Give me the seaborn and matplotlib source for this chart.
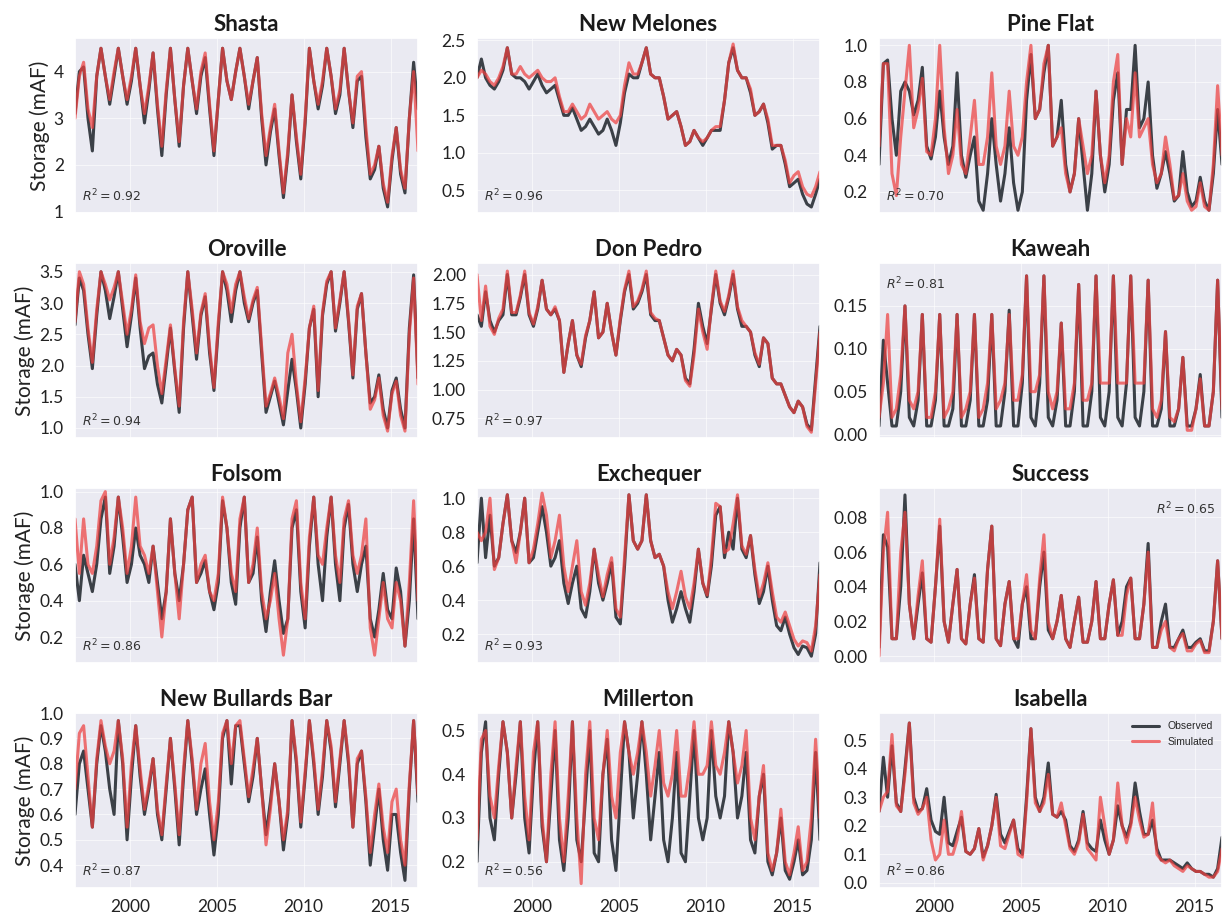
import numpy as np
import pandas as pd
import matplotlib
matplotlib.use("Agg")
import matplotlib.pyplot as plt
import seaborn as sns

# ---------------- data (quarterly readings: Nov, Feb, May, Aug of each water year 1997-2016) ----------------
dates = pd.date_range("1996-11-01", periods=80, freq="3MS")
series_names = ["Observed", "Simulated"]
reservoirs = ["Shasta", "New Melones", "Pine Flat",
              "Oroville", "Don Pedro", "Kaweah",
              "Folsom", "Exchequer", "Success",
              "New Bullards Bar", "Millerton", "Isabella"]
r2_values = [0.92, 0.96, 0.70, 0.94, 0.97, 0.81, 0.86, 0.93, 0.65, 0.87, 0.56, 0.86]

shasta_obs = [3.1, 4.0, 4.1, 3.0,  2.3, 3.9, 4.5, 3.9,  3.3, 3.9, 4.5, 3.9,  3.3, 3.8, 4.5, 3.7,
              2.9, 3.6, 4.4, 3.2,  2.2, 3.5, 4.5, 3.4,  2.4, 3.7, 4.5, 3.8,  3.1, 3.9, 4.3, 3.2,
              2.2, 3.4, 4.5, 3.8,  3.4, 4.0, 4.5, 3.9,  3.2, 3.8, 4.3, 3.0,  2.0, 2.7, 3.2, 2.2,
              1.3, 2.2, 3.5, 2.5,  1.7, 2.9, 4.5, 3.8,  3.2, 3.7, 4.5, 3.9,  3.1, 3.5, 4.5, 3.6,
              2.8, 3.8, 3.9, 2.6,  1.7, 1.9, 2.4, 1.5,  1.1, 2.1, 2.8, 1.8,  1.4, 3.0, 4.2, 3.2]
shasta_sim = [3.0, 3.9, 4.2, 3.2,  2.8, 3.9, 4.5, 3.9,  3.4, 4.0, 4.5, 3.9,  3.4, 3.9, 4.5, 3.7,
              3.1, 3.7, 4.4, 3.3,  2.4, 3.6, 4.5, 3.4,  2.5, 3.7, 4.5, 3.8,  3.2, 4.0, 4.4, 3.3,
              2.3, 3.4, 4.5, 3.8,  3.4, 4.0, 4.5, 3.9,  3.3, 3.8, 4.3, 3.1,  2.2, 2.8, 3.3, 2.3,
              1.4, 2.3, 3.5, 2.6,  1.8, 3.0, 4.5, 3.8,  3.3, 3.8, 4.5, 3.9,  3.2, 3.6, 4.5, 3.6,
              2.9, 3.9, 4.0, 2.8,  1.8, 2.0, 2.4, 1.6,  1.2, 2.2, 2.8, 1.9,  1.5, 3.0, 4.0, 2.3]

melones_obs = [2.0, 2.25, 2.0, 1.9,  1.85, 1.95, 2.1, 2.4,  2.05, 2.0, 2.0, 1.95,  1.85, 1.95, 2.05, 1.9,
               1.8, 1.85, 1.9, 1.7,  1.5, 1.5, 1.6, 1.45,  1.3, 1.35, 1.45, 1.35,  1.25, 1.3, 1.45, 1.3,
               1.1, 1.4, 1.8, 2.05,  2.0, 2.0, 2.2, 2.4,  2.05, 2.0, 2.0, 1.75,  1.45, 1.5, 1.55, 1.35,
               1.1, 1.15, 1.3, 1.2,  1.1, 1.2, 1.3, 1.3,  1.3, 1.7, 2.2, 2.4,  2.1, 2.0, 2.0, 1.8,
               1.5, 1.55, 1.65, 1.4,  1.05, 1.1, 1.1, 0.85,  0.55, 0.6, 0.65, 0.45,  0.32, 0.28, 0.45, 0.65]
melones_sim = [2.0, 2.1, 2.05, 1.95,  1.9, 2.0, 2.15, 2.4,  2.05, 2.05, 2.15, 2.05,  2.0, 2.05, 2.1, 2.0,
               1.95, 1.95, 2.0, 1.75,  1.55, 1.55, 1.65, 1.55,  1.45, 1.5, 1.65, 1.55,  1.45, 1.5, 1.55, 1.45,
               1.4, 1.5, 1.9, 2.2,  2.05, 2.05, 2.2, 2.4,  2.05, 2.0, 2.0, 1.75,  1.45, 1.5, 1.55, 1.35,
               1.1, 1.15, 1.3, 1.2,  1.15, 1.2, 1.3, 1.35,  1.35, 1.7, 2.2, 2.45,  2.1, 2.0, 2.0, 1.85,
               1.5, 1.55, 1.65, 1.45,  1.1, 1.1, 1.1, 0.9,  0.6, 0.7, 0.75, 0.55,  0.45, 0.42, 0.55, 0.75]

pineflat_obs = [0.35, 0.9, 0.92, 0.6,  0.4, 0.75, 0.8, 0.75,  0.62, 0.7, 0.88, 0.45,  0.38, 0.5, 0.75, 0.5,
                0.35, 0.45, 0.85, 0.4,  0.28, 0.4, 0.5, 0.15,  0.1, 0.3, 0.6, 0.35,  0.15, 0.3, 0.55, 0.25,
                0.1, 0.2, 0.7, 0.95,  0.6, 0.65, 0.85, 1.0,  0.45, 0.5, 0.7, 0.35,  0.2, 0.3, 0.6, 0.35,
                0.1, 0.3, 0.75, 0.4,  0.2, 0.35, 0.7, 0.85,  0.35, 0.65, 0.65, 1.0,  0.55, 0.6, 0.8, 0.4,
                0.22, 0.3, 0.42, 0.3,  0.15, 0.18, 0.42, 0.2,  0.12, 0.15, 0.28, 0.15,  0.1, 0.3, 0.65, 0.35]
pineflat_sim = [0.45, 0.9, 0.9, 0.3,  0.18, 0.5, 0.75, 1.0,  0.55, 0.65, 0.82, 0.42,  0.4, 0.6, 1.0, 0.55,
                0.3, 0.4, 0.65, 0.35,  0.3, 0.5, 0.7, 0.35,  0.35, 0.5, 0.85, 0.45,  0.35, 0.45, 0.75, 0.45,
                0.4, 0.5, 0.8, 1.0,  0.6, 0.65, 0.9, 1.0,  0.45, 0.5, 0.55, 0.3,  0.2, 0.3, 0.6, 0.45,
                0.3, 0.4, 0.75, 0.4,  0.25, 0.4, 0.8, 0.95,  0.35, 0.6, 0.5, 0.85,  0.5, 0.55, 0.6, 0.35,
                0.25, 0.3, 0.5, 0.35,  0.16, 0.18, 0.3, 0.15,  0.1, 0.12, 0.25, 0.12,  0.1, 0.35, 0.78, 0.4]

oroville_obs = [2.65, 3.4, 3.2, 2.5,  1.95, 2.8, 3.5, 3.2,  2.75, 3.1, 3.5, 2.9,  2.3, 2.8, 3.4, 2.6,
                1.95, 2.15, 2.2, 1.7,  1.4, 2.0, 2.6, 1.9,  1.25, 2.6, 3.5, 2.8,  2.1, 2.8, 3.1, 2.2,
                1.6, 2.6, 3.5, 3.2,  2.7, 3.2, 3.5, 3.0,  2.7, 3.0, 3.2, 2.2,  1.25, 1.5, 1.75, 1.4,
                1.05, 1.6, 2.1, 1.6,  1.0, 1.7, 2.6, 2.9,  1.5, 2.8, 3.3, 3.5,  2.55, 3.0, 3.5, 2.7,
                1.8, 2.9, 3.15, 2.2,  1.4, 1.5, 1.85, 1.3,  1.0, 1.6, 1.8, 1.3,  1.0, 2.6, 3.45, 1.8]
oroville_sim = [2.7, 3.5, 3.3, 2.6,  2.05, 2.9, 3.5, 3.3,  3.05, 3.25, 3.5, 3.0,  2.5, 2.9, 3.45, 2.7,
                2.35, 2.6, 2.65, 2.0,  1.55, 2.1, 2.65, 1.95,  1.35, 2.7, 3.5, 2.9,  2.2, 2.85, 3.15, 2.3,
                1.65, 2.7, 3.5, 3.3,  2.85, 3.3, 3.5, 3.1,  2.75, 3.05, 3.25, 2.3,  1.35, 1.55, 1.8, 1.5,
                1.15, 2.2, 2.5, 1.7,  1.1, 1.8, 2.6, 2.95,  1.6, 2.85, 3.35, 3.5,  2.6, 3.05, 3.5, 2.75,
                1.85, 2.95, 3.15, 2.2,  1.3, 1.45, 1.8, 1.2,  0.95, 1.55, 1.75, 1.2,  0.95, 2.5, 3.4, 1.7]

donpedro_obs = [1.65, 1.55, 1.85, 1.6,  1.5, 1.6, 1.65, 2.0,  1.65, 1.65, 1.8, 2.0,  1.65, 1.55, 1.7, 1.95,
                1.7, 1.65, 1.7, 1.6,  1.15, 1.4, 1.6, 1.3,  1.2, 1.45, 1.6, 1.85,  1.45, 1.5, 1.75, 1.5,
                1.3, 1.6, 1.85, 2.0,  1.7, 1.75, 1.85, 2.0,  1.65, 1.6, 1.6, 1.45,  1.3, 1.25, 1.35, 1.3,
                1.1, 1.05, 1.35, 1.75,  1.55, 1.4, 1.7, 2.0,  1.75, 1.65, 1.8, 2.0,  1.7, 1.55, 1.55, 1.5,
                1.3, 1.2, 1.45, 1.4,  1.1, 1.05, 1.05, 0.95,  0.85, 0.8, 0.9, 0.85,  0.7, 0.65, 1.1, 1.55]
donpedro_sim = [2.0, 1.6, 1.9, 1.55,  1.48, 1.62, 1.7, 2.03,  1.67, 1.67, 1.82, 2.03,  1.67, 1.57, 1.72, 1.95,
                1.7, 1.65, 1.72, 1.6,  1.15, 1.4, 1.6, 1.3,  1.22, 1.47, 1.6, 1.85,  1.45, 1.5, 1.75, 1.5,
                1.3, 1.62, 1.87, 2.03,  1.72, 1.77, 1.87, 2.03,  1.67, 1.62, 1.6, 1.45,  1.3, 1.25, 1.35, 1.3,
                1.08, 1.03, 1.3, 1.7,  1.5, 1.35, 1.72, 2.03,  1.77, 1.68, 1.82, 2.03,  1.72, 1.6, 1.55, 1.5,
                1.32, 1.22, 1.45, 1.4,  1.1, 1.05, 1.05, 0.95,  0.85, 0.8, 0.9, 0.85,  0.68, 0.63, 1.05, 1.5]

kaweah_obs = [0.01, 0.11, 0.06, 0.01,  0.01, 0.05, 0.15, 0.02,  0.01, 0.04, 0.14, 0.01,  0.01, 0.04, 0.14, 0.01,
              0.01, 0.03, 0.14, 0.01,  0.01, 0.04, 0.14, 0.01,  0.01, 0.04, 0.14, 0.01,  0.01, 0.05, 0.145, 0.01,
              0.01, 0.06, 0.185, 0.02,  0.01, 0.06, 0.185, 0.02,  0.01, 0.04, 0.13, 0.01,  0.01, 0.05, 0.175, 0.01,
              0.01, 0.05, 0.185, 0.02,  0.01, 0.05, 0.185, 0.02,  0.01, 0.06, 0.185, 0.02,  0.01, 0.05, 0.18, 0.01,
              0.01, 0.03, 0.12, 0.01,  0.01, 0.03, 0.09, 0.01,  0.01, 0.03, 0.07, 0.01,  0.01, 0.05, 0.18, 0.02]
kaweah_sim = [0.02, 0.06, 0.14, 0.02,  0.03, 0.07, 0.15, 0.04,  0.03, 0.05, 0.14, 0.02,  0.02, 0.05, 0.14, 0.02,
              0.03, 0.05, 0.14, 0.02,  0.03, 0.05, 0.14, 0.02,  0.03, 0.06, 0.14, 0.03,  0.04, 0.06, 0.14, 0.04,
              0.04, 0.07, 0.185, 0.05,  0.05, 0.07, 0.185, 0.05,  0.03, 0.05, 0.13, 0.03,  0.03, 0.06, 0.175, 0.04,
              0.04, 0.06, 0.185, 0.06,  0.06, 0.06, 0.185, 0.06,  0.06, 0.06, 0.185, 0.06,  0.06, 0.06, 0.18, 0.03,
              0.02, 0.04, 0.12, 0.02,  0.015, 0.03, 0.09, 0.005,  0.005, 0.03, 0.065, 0.01,  0.01, 0.05, 0.18, 0.03]

folsom_obs = [0.6, 0.4, 0.65, 0.55,  0.45, 0.6, 0.85, 0.97,  0.55, 0.7, 0.97, 0.75,  0.5, 0.6, 0.8, 0.65,
              0.6, 0.5, 0.7, 0.5,  0.3, 0.45, 0.85, 0.55,  0.4, 0.6, 0.9, 0.97,  0.5, 0.55, 0.62, 0.45,
              0.35, 0.5, 0.95, 0.8,  0.5, 0.38, 0.8, 0.97,  0.5, 0.55, 0.75, 0.4,  0.23, 0.45, 0.62, 0.4,
              0.22, 0.3, 0.8, 0.9,  0.45, 0.25, 0.7, 0.97,  0.6, 0.4, 0.75, 0.97,  0.6, 0.4, 0.8, 0.93,
              0.6, 0.45, 0.6, 0.7,  0.3, 0.2, 0.35, 0.55,  0.35, 0.3, 0.58, 0.45,  0.15, 0.4, 0.85, 0.3]
folsom_sim = [0.85, 0.55, 0.85, 0.6,  0.55, 0.7, 0.95, 1.0,  0.6, 0.75, 0.97, 0.8,  0.55, 0.7, 0.97, 0.7,
              0.65, 0.55, 0.7, 0.45,  0.2, 0.45, 0.85, 0.55,  0.3, 0.6, 0.9, 0.97,  0.5, 0.6, 0.65, 0.45,
              0.4, 0.55, 0.97, 0.8,  0.55, 0.45, 0.85, 0.97,  0.5, 0.6, 0.8, 0.45,  0.3, 0.4, 0.55, 0.3,
              0.1, 0.3, 0.85, 0.95,  0.5, 0.3, 0.75, 0.97,  0.65, 0.6, 0.8, 0.97,  0.65, 0.5, 0.85, 0.95,
              0.65, 0.55, 0.65, 0.85,  0.25, 0.1, 0.3, 0.5,  0.3, 0.25, 0.5, 0.4,  0.15, 0.5, 0.95, 0.4]

exchequer_obs = [0.62, 1.0, 0.65, 0.9,  0.6, 0.65, 0.85, 1.02,  0.75, 0.68, 0.8, 1.0,  0.62, 0.65, 0.8, 0.95,
                 0.8, 0.6, 0.65, 0.75,  0.5, 0.38, 0.5, 0.6,  0.35, 0.3, 0.45, 0.7,  0.5, 0.4, 0.5, 0.62,
                 0.3, 0.26, 0.6, 1.02,  0.75, 0.7, 0.75, 1.02,  0.75, 0.65, 0.67, 0.6,  0.4, 0.27, 0.35, 0.45,
                 0.35, 0.27, 0.45, 0.7,  0.5, 0.42, 0.6, 0.9,  0.95, 0.65, 0.8, 0.7,  1.0, 0.7, 0.65, 0.78,
                 0.55, 0.38, 0.45, 0.6,  0.4, 0.25, 0.22, 0.3,  0.2, 0.12, 0.08, 0.13,  0.12, 0.07, 0.2, 0.62]
exchequer_sim = [0.8, 0.75, 0.8, 1.0,  0.58, 0.65, 0.85, 1.02,  0.75, 0.62, 0.8, 1.0,  0.62, 0.7, 0.85, 1.03,
                 0.9, 0.65, 0.75, 0.9,  0.6, 0.45, 0.6, 0.75,  0.45, 0.37, 0.5, 0.7,  0.55, 0.42, 0.55, 0.65,
                 0.35, 0.3, 0.65, 1.02,  0.75, 0.7, 0.75, 1.02,  0.75, 0.65, 0.67, 0.6,  0.45, 0.35, 0.45, 0.57,
                 0.42, 0.35, 0.5, 0.7,  0.5, 0.43, 0.65, 0.97,  0.95, 0.68, 0.7, 0.85,  1.02, 0.72, 0.67, 0.78,
                 0.58, 0.42, 0.5, 0.62,  0.45, 0.3, 0.27, 0.33,  0.25, 0.17, 0.13, 0.16,  0.15, 0.1, 0.25, 0.55]

success_obs = [0.005, 0.07, 0.063, 0.01,  0.01, 0.04, 0.093, 0.03,  0.01, 0.03, 0.048, 0.01,  0.008, 0.04, 0.075, 0.02,
               0.008, 0.03, 0.05, 0.01,  0.007, 0.03, 0.047, 0.01,  0.008, 0.05, 0.075, 0.01,  0.006, 0.03, 0.043, 0.01,
               0.005, 0.03, 0.04, 0.01,  0.01, 0.04, 0.06, 0.015,  0.01, 0.02, 0.035, 0.01,  0.005, 0.02, 0.034, 0.008,
               0.008, 0.02, 0.043, 0.01,  0.01, 0.03, 0.044, 0.012,  0.02, 0.04, 0.045, 0.01,  0.01, 0.03, 0.065, 0.005,
               0.005, 0.02, 0.03, 0.005,  0.005, 0.01, 0.015, 0.005,  0.005, 0.008, 0.01, 0.003,  0.003, 0.02, 0.055, 0.01]
success_sim = [0.0, 0.06, 0.083, 0.01,  0.01, 0.06, 0.083, 0.03,  0.01, 0.035, 0.055, 0.01,  0.008, 0.04, 0.079, 0.02,
               0.008, 0.03, 0.05, 0.01,  0.007, 0.03, 0.045, 0.01,  0.008, 0.05, 0.075, 0.01,  0.006, 0.03, 0.043, 0.01,
               0.01, 0.03, 0.047, 0.015,  0.01, 0.045, 0.07, 0.02,  0.01, 0.02, 0.035, 0.01,  0.005, 0.02, 0.034, 0.008,
               0.008, 0.02, 0.043, 0.01,  0.01, 0.03, 0.044, 0.012,  0.012, 0.035, 0.045, 0.01,  0.01, 0.03, 0.06, 0.005,
               0.005, 0.015, 0.02, 0.005,  0.003, 0.01, 0.013, 0.003,  0.003, 0.007, 0.009, 0.002,  0.002, 0.02, 0.055, 0.01]

bullards_obs = [0.6, 0.8, 0.85, 0.7,  0.55, 0.8, 0.95, 0.85,  0.7, 0.6, 0.97, 0.8,  0.5, 0.75, 0.95, 0.75,
                0.6, 0.7, 0.82, 0.6,  0.5, 0.7, 0.9, 0.7,  0.48, 0.75, 0.97, 0.8,  0.6, 0.7, 0.78, 0.6,
                0.44, 0.6, 0.9, 0.97,  0.72, 0.95, 0.95, 0.8,  0.65, 0.75, 0.9, 0.7,  0.52, 0.65, 0.8, 0.65,
                0.46, 0.6, 0.97, 0.8,  0.55, 0.75, 0.97, 0.8,  0.6, 0.75, 0.97, 0.85,  0.63, 0.8, 0.97, 0.8,
                0.55, 0.8, 0.85, 0.65,  0.4, 0.55, 0.7, 0.5,  0.38, 0.6, 0.6, 0.45,  0.34, 0.7, 0.97, 0.65]
bullards_sim = [0.7, 0.92, 0.95, 0.75,  0.55, 0.82, 0.97, 0.87,  0.8, 0.85, 0.97, 0.82,  0.55, 0.8, 0.95, 0.78,
                0.62, 0.72, 0.82, 0.62,  0.52, 0.72, 0.9, 0.72,  0.52, 0.78, 0.97, 0.82,  0.62, 0.8, 0.88, 0.65,
                0.5, 0.65, 0.92, 0.97,  0.8, 0.95, 0.97, 0.82,  0.67, 0.78, 0.9, 0.7,  0.48, 0.62, 0.8, 0.65,
                0.5, 0.62, 0.97, 0.82,  0.57, 0.77, 0.97, 0.82,  0.62, 0.78, 0.97, 0.87,  0.65, 0.82, 0.97, 0.82,
                0.55, 0.82, 0.85, 0.67,  0.45, 0.6, 0.72, 0.55,  0.45, 0.65, 0.7, 0.5,  0.4, 0.72, 0.97, 0.68]

millerton_obs = [0.2, 0.45, 0.52, 0.3,  0.25, 0.4, 0.52, 0.45,  0.3, 0.4, 0.52, 0.3,  0.22, 0.4, 0.52, 0.28,
                 0.2, 0.35, 0.5, 0.25,  0.18, 0.3, 0.52, 0.25,  0.2, 0.35, 0.5, 0.22,  0.2, 0.4, 0.48, 0.25,
                 0.18, 0.35, 0.52, 0.45,  0.3, 0.4, 0.52, 0.4,  0.25, 0.35, 0.45, 0.25,  0.2, 0.3, 0.45, 0.22,
                 0.2, 0.35, 0.5, 0.3,  0.25, 0.3, 0.5, 0.35,  0.3, 0.35, 0.52, 0.45,  0.3, 0.35, 0.45, 0.25,
                 0.22, 0.35, 0.4, 0.2,  0.17, 0.22, 0.3, 0.18,  0.16, 0.2, 0.25, 0.17,  0.18, 0.25, 0.45, 0.25]
millerton_sim = [0.25, 0.48, 0.5, 0.35,  0.3, 0.42, 0.52, 0.45,  0.3, 0.42, 0.52, 0.35,  0.25, 0.45, 0.52, 0.3,
                 0.2, 0.4, 0.52, 0.3,  0.2, 0.35, 0.52, 0.3,  0.15, 0.4, 0.52, 0.3,  0.25, 0.4, 0.5, 0.35,
                 0.3, 0.45, 0.52, 0.45,  0.4, 0.45, 0.52, 0.45,  0.35, 0.42, 0.5, 0.38,  0.35, 0.4, 0.5, 0.35,
                 0.35, 0.42, 0.52, 0.4,  0.4, 0.42, 0.52, 0.42,  0.4, 0.45, 0.52, 0.45,  0.38, 0.42, 0.5, 0.3,
                 0.25, 0.35, 0.42, 0.22,  0.18, 0.22, 0.32, 0.2,  0.17, 0.22, 0.28, 0.18,  0.2, 0.3, 0.48, 0.3]

isabella_obs = [0.25, 0.44, 0.3, 0.48,  0.28, 0.25, 0.4, 0.56,  0.3, 0.25, 0.26, 0.33,  0.22, 0.18, 0.17, 0.3,
                0.14, 0.13, 0.18, 0.23,  0.11, 0.1, 0.12, 0.19,  0.09, 0.13, 0.2, 0.31,  0.17, 0.14, 0.18, 0.22,
                0.12, 0.1, 0.3, 0.54,  0.3, 0.25, 0.3, 0.42,  0.24, 0.23, 0.25, 0.22,  0.13, 0.11, 0.15, 0.25,
                0.14, 0.12, 0.11, 0.22,  0.15, 0.1, 0.15, 0.27,  0.2, 0.16, 0.21, 0.35,  0.25, 0.17, 0.17, 0.22,
                0.12, 0.08, 0.08, 0.08,  0.07, 0.06, 0.05, 0.07,  0.05, 0.04, 0.04, 0.03,  0.03, 0.02, 0.05, 0.16]
isabella_sim = [0.25, 0.3, 0.32, 0.52,  0.27, 0.25, 0.38, 0.56,  0.28, 0.24, 0.26, 0.3,  0.15, 0.08, 0.1, 0.22,
                0.1, 0.1, 0.15, 0.25,  0.11, 0.1, 0.12, 0.19,  0.08, 0.13, 0.2, 0.3,  0.13, 0.12, 0.17, 0.22,
                0.1, 0.09, 0.28, 0.54,  0.28, 0.25, 0.28, 0.38,  0.24, 0.23, 0.28, 0.2,  0.12, 0.1, 0.14, 0.24,
                0.12, 0.1, 0.08, 0.3,  0.2, 0.1, 0.15, 0.35,  0.2, 0.14, 0.2, 0.3,  0.22, 0.16, 0.17, 0.28,
                0.1, 0.08, 0.07, 0.08,  0.06, 0.05, 0.04, 0.06,  0.05, 0.04, 0.04, 0.03,  0.02, 0.02, 0.04, 0.12]

observed = [shasta_obs, melones_obs, pineflat_obs, oroville_obs, donpedro_obs, kaweah_obs,
            folsom_obs, exchequer_obs, success_obs, bullards_obs, millerton_obs, isabella_obs]
simulated = [shasta_sim, melones_sim, pineflat_sim, oroville_sim, donpedro_sim, kaweah_sim,
             folsom_sim, exchequer_sim, success_sim, bullards_sim, millerton_sim, isabella_sim]

ytick_values = [[1, 2, 3, 4], [0.5, 1.0, 1.5, 2.0, 2.5], [0.2, 0.4, 0.6, 0.8, 1.0],
                [1.0, 1.5, 2.0, 2.5, 3.0, 3.5], [0.75, 1.00, 1.25, 1.50, 1.75, 2.00], [0.00, 0.05, 0.10, 0.15],
                [0.2, 0.4, 0.6, 0.8, 1.0], [0.2, 0.4, 0.6, 0.8, 1.0], [0.00, 0.02, 0.04, 0.06, 0.08],
                [0.4, 0.5, 0.6, 0.7, 0.8, 0.9, 1.0], [0.2, 0.3, 0.4, 0.5], [0.0, 0.1, 0.2, 0.3, 0.4, 0.5]]
xtick_years = [2000, 2005, 2010, 2015]

# ---------------- styling / layout ----------------
ylims = [(0.97, 4.72), (0.2, 2.53), (0.085, 1.04),
         (0.84, 3.64), (0.58, 2.1), (-0.004, 0.2),
         (0.057, 1.02), (0.03, 1.06), (-0.004, 0.097),
         (0.31, 1.0), (0.14, 0.54), (-0.018, 0.595)]
r2_pos = {5: (0.02, 0.93, "left", "top"), 8: (0.98, 0.93, "right", "top")}
ytick_fmt = {0: "{:.0f}", 4: "{:.2f}", 5: "{:.2f}", 8: "{:.2f}"}

sns.set_theme(style="darkgrid")
plt.rcParams["font.family"] = ["Lato", "DejaVu Sans"]

W, H = 1223, 914
fig = plt.figure(figsize=(W / 100, H / 100), dpi=100)
lefts = [75, 477, 879]
tops = [38, 263, 488, 713]
aw, ah = 343, 175
palette = {"Observed": "#3b4047", "Simulated": "#ee4040"}

for i, name in enumerate(reservoirs):
    r, c = divmod(i, 3)
    ax = fig.add_axes([lefts[c] / W, 1 - (tops[r] + ah) / H, aw / W, ah / H])
    df = pd.DataFrame({
        "date": list(dates) + list(dates),
        "storage": list(observed[i]) + list(simulated[i]),
        "series": [series_names[0]] * len(dates) + [series_names[1]] * len(dates),
    })
    sns.lineplot(data=df, x="date", y="storage", hue="series", palette=palette,
                 linewidth=2.2, ax=ax, legend=False)
    ax.lines[1].set_alpha(0.72)
    ax.set_xlim(dates[0], dates[-1])
    ax.set_ylim(*ylims[i])
    ax.set_yticks(ytick_values[i])
    fmt = ytick_fmt.get(i, "{:.1f}")
    ax.set_yticklabels([fmt.format(v) for v in ytick_values[i]])
    xt = [pd.Timestamp(f"{y}-01-01") for y in xtick_years]
    ax.set_xticks(xt)
    if r == 3:
        ax.set_xticklabels([str(y) for y in xtick_years])
    else:
        ax.set_xticklabels([])
    ax.tick_params(labelsize=12.5, pad=2, colors="#222222")
    ax.set_xlabel("")
    ax.set_ylabel("Storage (mAF)" if c == 0 else "", fontsize=15, color="#222222", labelpad=3)
    ax.set_title(name, fontsize=16, fontweight="bold", pad=5, color="#1a1a1a")
    ax.grid(color="white", linewidth=0.8, alpha=0.6)
    x0, y0, ha, va = r2_pos.get(i, (0.02, 0.05, "left", "bottom"))
    ax.text(x0, y0, r"$R^2 = %.2f$" % r2_values[i], transform=ax.transAxes,
            ha=ha, va=va, fontsize=9, color="#333333")
    if name == "Isabella":
        ax.legend(handles=ax.lines[:2], labels=series_names, loc="upper right",
                  frameon=False, prop={"family": "Liberation Sans", "size": 7.5},
                  handlelength=2.6, borderaxespad=0.4)

fig.savefig("out.png", dpi=100)
